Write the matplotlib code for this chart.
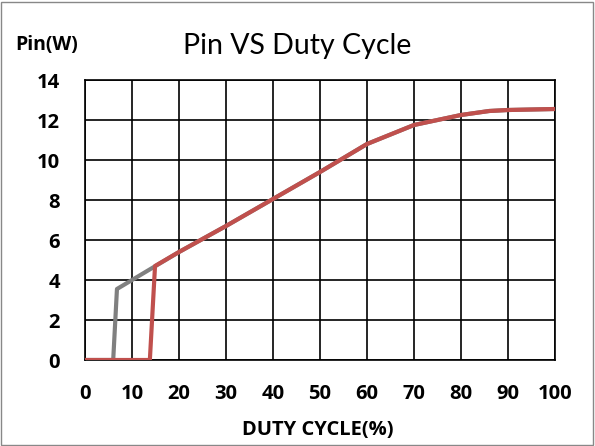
import matplotlib.pyplot as plt
from matplotlib.patches import Rectangle

# gray trace
gray_x = [0, 6, 6.8, 15, 20, 30, 40, 50, 60, 70, 80, 86, 90, 100]
gray_y = [0, 0, 3.55, 4.7, 5.4, 6.7, 8.05, 9.4, 10.8, 11.75, 12.25, 12.45, 12.5, 12.55]
# red trace
red_x = [0, 13.8, 14.9, 20, 30, 40, 50, 60, 70, 80, 86, 90, 100]
red_y = [0, 0, 4.7, 5.4, 6.7, 8.05, 9.4, 10.8, 11.75, 12.25, 12.45, 12.5, 12.55]

x_ticks = list(range(0, 101, 10))
y_ticks = list(range(0, 15, 2))

plt.rcParams['font.family'] = ['Open Sans', 'DejaVu Sans']

fig = plt.figure(figsize=(5.95, 4.46), dpi=100)
ax = fig.add_axes([85 / 595, 1 - 360 / 446, 470 / 595, 280 / 446])

ax.plot(gray_x, gray_y, color='#808080', lw=3, solid_joinstyle='round', zorder=3)
ax.plot(red_x, red_y, color='#C0504D', lw=3, solid_joinstyle='round', zorder=4)

ax.set_xlim(0, 100)
ax.set_ylim(0, 14)
ax.set_xticks(x_ticks)
ax.set_yticks(y_ticks)
ax.grid(True, color='black', lw=1.2)
ax.tick_params(axis='x', length=0, labelsize=14.5, pad=17)
ax.tick_params(axis='y', length=0, labelsize=14.5, pad=18)
for lab in ax.get_xticklabels() + ax.get_yticklabels():
    lab.set_fontweight('bold')
for sp in ax.spines.values():
    sp.set_color('black')
    sp.set_linewidth(1.2)

fig.text(0.5, 1 - 46 / 446, 'Pin VS Duty Cycle', ha='center', va='center',
         fontsize=20.5, family=['Lato', 'DejaVu Sans'])
fig.text(15 / 595, 1 - 45 / 446, 'Pin(W)', ha='left', va='center', fontsize=14, fontweight='bold')
fig.text(318 / 595, 1 - 430 / 446, 'DUTY CYCLE(%)', ha='center', va='center',
         fontsize=14.5, fontweight='bold')

fig.add_artist(Rectangle((0.002, 0.002), 0.994, 0.994, transform=fig.transFigure,
                         fill=False, edgecolor='#888888', lw=1))

fig.savefig('out.png', dpi=100)
